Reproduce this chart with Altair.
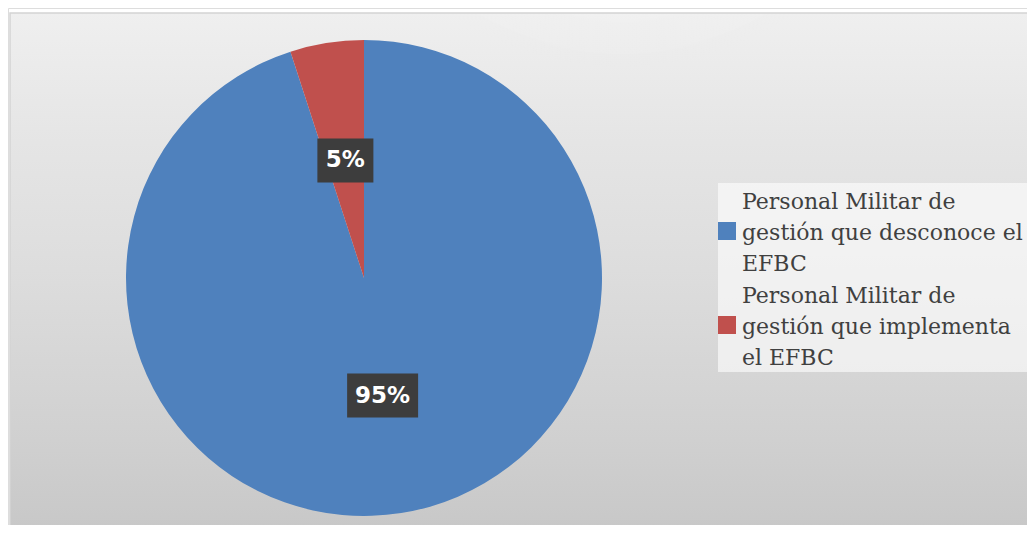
import altair as alt
import pandas as pd

# ---- data ----
categories = [
    "Personal Militar de gestión que desconoce el EFBC",
    "Personal Militar de gestión que implementa el EFBC",
]
values = [95, 5]
pct_labels = ["95%", "5%"]
legend_lines = [
    ["Personal Militar de", "gestión que desconoce el", "EFBC"],
    ["Personal Militar de", "gestión que implementa", "el EFBC"],
]
colors = ["#4F81BD", "#C0504D"]

# ---- layout constants (pixels, plot coordinates) ----
W, H = 1019, 517
CX, CY, R = 356, 270, 238
LR = 119          # radius of the data labels
LEG_X, LEG_Y0, LEG_STEP = 734, 201, 94

df = pd.DataFrame({
    "cat": categories,
    "value": values,
    "label": pct_labels,
    "order": list(range(len(categories))),
    "legend": ["\n".join(l) for l in legend_lines],
})
color_scale = alt.Scale(domain=categories, range=colors)
one = pd.DataFrame({"a": [0]})

bg = alt.Chart(one).mark_rect(
    fill=alt.Gradient(
        gradient="linear",
        stops=[alt.GradientStop(color="#efefef", offset=0),
               alt.GradientStop(color="#e5e5e5", offset=0.25),
               alt.GradientStop(color="#dddddd", offset=0.5),
               alt.GradientStop(color="#d0d0d0", offset=0.83),
               alt.GradientStop(color="#c8c8c8", offset=1)],
        x1=0, y1=0, x2=0, y2=1),
    stroke="#d4d4d4", strokeWidth=1.5,
).encode(x=alt.value(2), x2=alt.value(W + 2), y=alt.value(5), y2=alt.value(H + 2))

glow = alt.Chart(one).mark_rect(
    fill=alt.Gradient(
        gradient="radial",
        stops=[alt.GradientStop(color="rgba(255,255,255,0.6)", offset=0),
               alt.GradientStop(color="rgba(255,255,255,0)", offset=1)],
        x1=0.6, y1=0, r1=0, x2=0.6, y2=0, r2=0.3),
).encode(x=alt.value(3), x2=alt.value(W + 2), y=alt.value(6), y2=alt.value(H + 2))

pie = alt.Chart(df).mark_arc(outerRadius=R).encode(
    theta=alt.Theta("value:Q", stack=True),
    color=alt.Color("cat:N", scale=color_scale, legend=None),
    order=alt.Order("order:Q"),
    x=alt.value(CX), y=alt.value(CY),
)

lab = alt.Chart(df).transform_window(
    cum="sum(value)", sort=[alt.SortField("order")], frame=[None, 0]
).transform_joinaggregate(total="sum(value)").transform_calculate(
    mid="(datum.cum - datum.value/2) / datum.total * 2 * PI",
    lx=f"{CX} + {LR} * sin(datum.mid)",
    ly=f"{CY} - {LR} * cos(datum.mid)",
    bw="15 * length(datum.label) + 26",
    bx0="datum.lx - datum.bw/2", bx1="datum.lx + datum.bw/2",
    by0="datum.ly - 22", by1="datum.ly + 22",
)

boxes = lab.mark_rect(fill="#3d3d3d").encode(
    x=alt.X("bx0:Q", scale=None), x2="bx1:Q",
    y=alt.Y("by0:Q", scale=None), y2="by1:Q",
)
texts = lab.mark_text(
    font="DejaVu Sans", fontWeight="bold", fontSize=23, color="white",
    align="center", baseline="middle",
).encode(
    x=alt.X("lx:Q", scale=None), y=alt.Y("ly:Q", scale=None), text="label:N"
)

leg_bg = alt.Chart(one).mark_rect(fill="white", opacity=0.6).encode(
    x=alt.value(710), x2=alt.value(W + 2), y=alt.value(175), y2=alt.value(364)
)
leg = alt.Chart(df).transform_calculate(
    ty=f"{LEG_Y0} + datum.order * {LEG_STEP}",
    sy=f"{LEG_Y0} + 22 + datum.order * {LEG_STEP}",
)
leg_sym = leg.mark_square(size=324, opacity=1).encode(
    x=alt.value(719), y=alt.Y("sy:Q", scale=None),
    color=alt.Color("cat:N", scale=color_scale, legend=None),
)
leg_txt = leg.mark_text(
    font="DejaVu Serif", fontSize=22, color="#404040", align="left",
    baseline="alphabetic", lineBreak="\n", lineHeight=31,
).encode(x=alt.value(LEG_X), y=alt.Y("ty:Q", scale=None), text="legend:N")

chart = alt.layer(bg, glow, pie, boxes, texts, leg_bg, leg_sym, leg_txt).properties(
    width=W, height=H, padding=0, autosize=alt.AutoSizeParams(type="none")
).configure_view(stroke=None).configure(background="white")

chart.save("out.html", embed_options={"renderer": "svg", "actions": False})
